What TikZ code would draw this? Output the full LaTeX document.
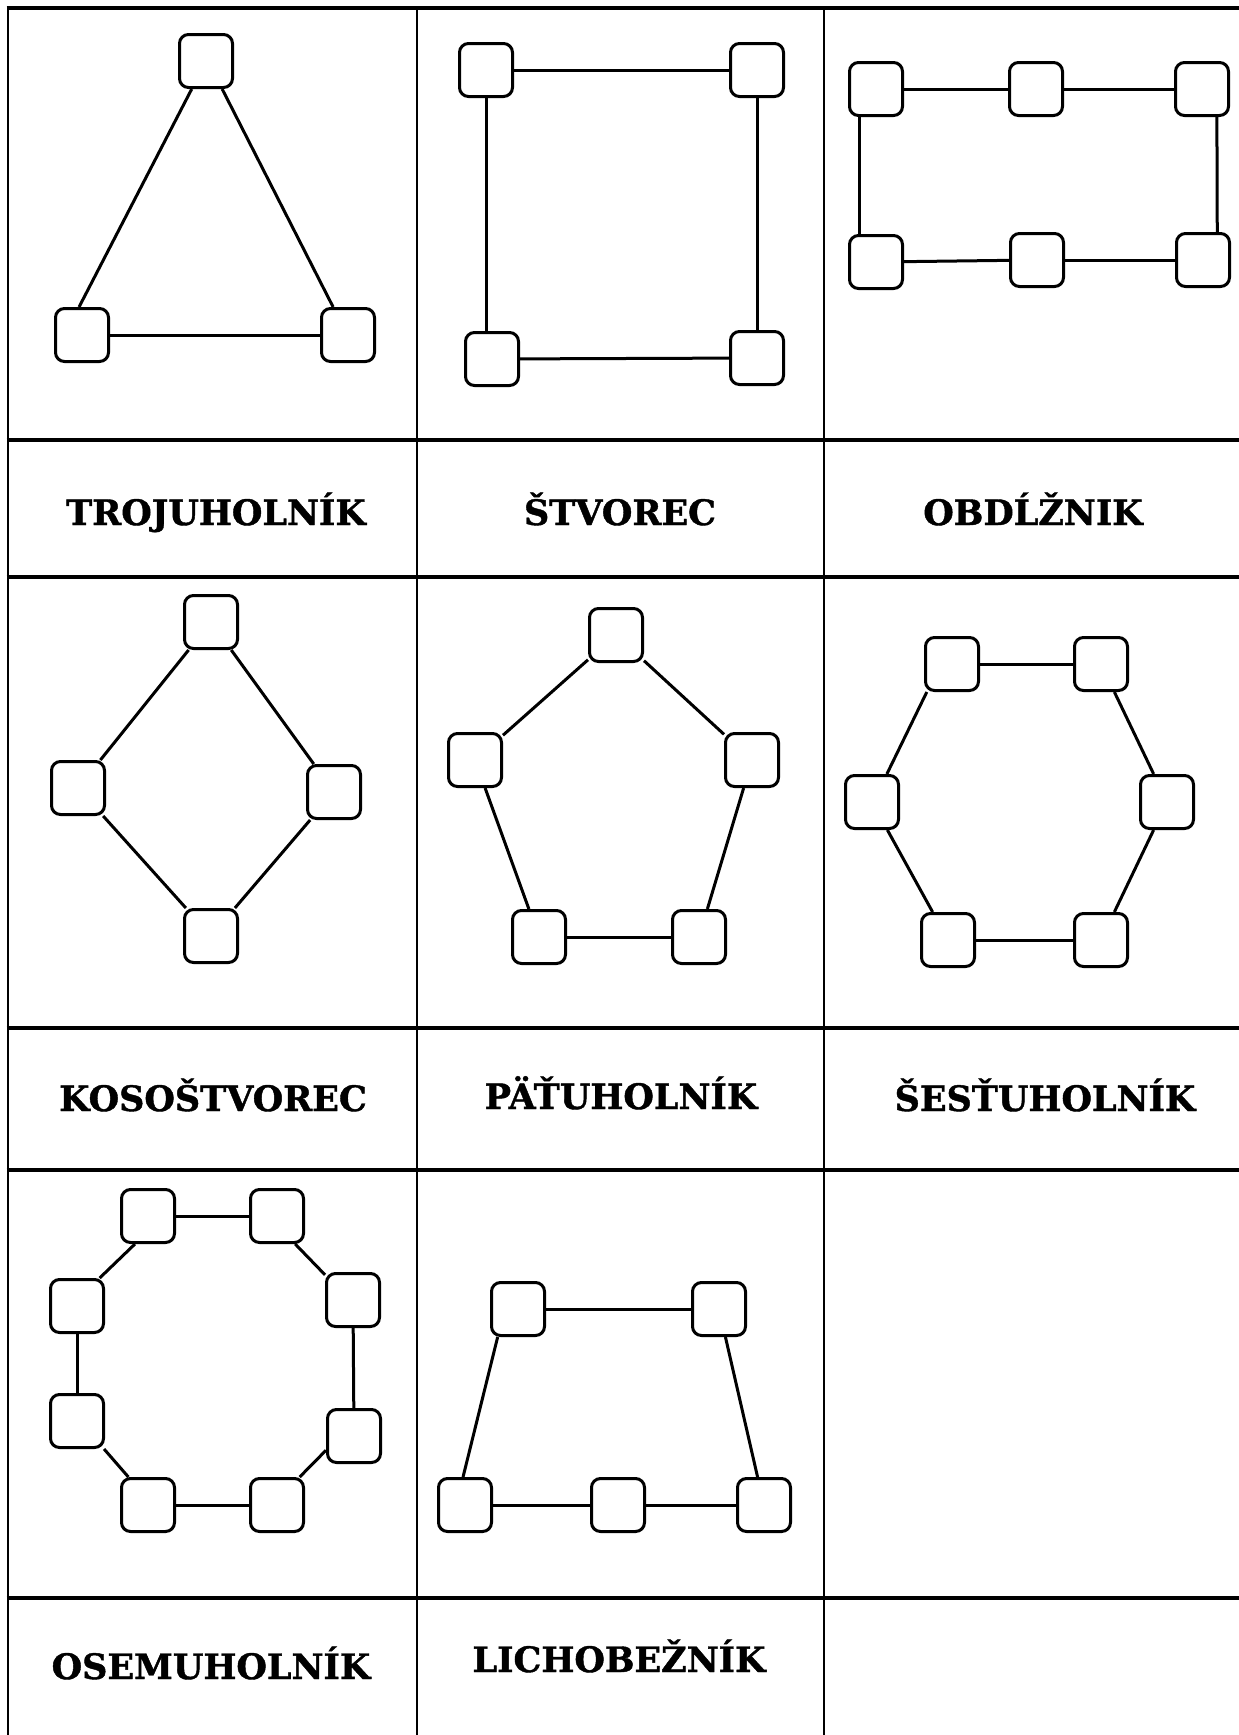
\documentclass[tikz,border=0pt]{standalone}
\usepackage{fontspec}
\setmainfont{DejaVu Serif}
\newfontfamily\lblfont{DejaVu Serif Bold}[FakeBold=1.2]
\begin{document}
\begin{tikzpicture}[x=1pt,y=-1pt,
  vbox/.style={draw, line width=3pt, rounded corners=9pt, minimum size=53pt, inner sep=0pt, fill=white},
  edge/.style={line width=3pt},
  hgrid/.style={line width=3.5pt},
  vgrid/.style={line width=2.6pt},
  lbl/.style={font=\lblfont\fontsize{35}{35}\selectfont, inner sep=0pt, anchor=base}]
\fill[white] (0,0) rectangle (1239,1735);
\useasboundingbox (0,0) rectangle (1239,1735);
% grid
\foreach \y in {8,440,577,1028,1170,1598} \draw[hgrid] (6.7,\y) -- (1239,\y);
\foreach \x in {8,417,824} \draw[vgrid] (\x,6.25) -- (\x,1735);
% triangle
\node[vbox] (a1) at (206,61) {};
\node[vbox] (a2) at (82,335) {};
\node[vbox] (a3) at (348,335) {};
\draw[edge] (a1.243) -- (a2.96);
\draw[edge] (a1.300) -- (a3.118);
\draw[edge] (a2) -- (a3);
% square
\node[vbox] (b1) at (486,70) {};
\node[vbox] (b2) at (757,70) {};
\node[vbox] (b3) at (492,359) {};
\node[vbox] (b4) at (757,358) {};
\draw[edge] (b1) -- (b2);
\draw[edge] (b1.south) -- (b1.south |- b3.north);
\draw[edge] (b2) -- (b4);
\draw[edge] (b3) -- (b4);
% rectangle
\node[vbox] (c1) at (876,89) {};
\node[vbox] (c2) at (1036,89) {};
\node[vbox] (c3) at (1202,89) {};
\node[vbox] (c4) at (876,262) {};
\node[vbox] (c5) at (1037,260) {};
\node[vbox] (c6) at (1203,260) {};
\draw[edge] (c1) -- (c2);
\draw[edge] (c2) -- (c3);
\draw[edge] (c4) -- (c5);
\draw[edge] (c5) -- (c6);
\draw[edge] (c1.240) -- (c4.120);
\draw[edge] (c3.298) -- (c6.63);
% rhombus
\node[vbox] (d1) at (211,622) {};
\node[vbox] (d2) at (78,788) {};
\node[vbox] (d3) at (334,792) {};
\node[vbox] (d4) at (211,936) {};
\draw[edge] (d1) -- (d2);
\draw[edge] (d1) -- (d3);
\draw[edge] (d2) -- (d4);
\draw[edge] (d3) -- (d4);
% pentagon
\node[vbox] (e1) at (616,635) {};
\node[vbox] (e2) at (475,760) {};
\node[vbox] (e3) at (752,760) {};
\node[vbox] (e4) at (539,937) {};
\node[vbox] (e5) at (699,937) {};
\draw[edge] (e1) -- (e2);
\draw[edge] (e1) -- (e3);
\draw[edge] (e2) -- (e4);
\draw[edge] (e3) -- (e5);
\draw[edge] (e4) -- (e5);
% hexagon
\node[vbox] (f1) at (952,664) {};
\node[vbox] (f2) at (1101,664) {};
\node[vbox] (f3) at (872,802) {};
\node[vbox] (f4) at (1167,802) {};
\node[vbox] (f5) at (948,940) {};
\node[vbox] (f6) at (1101,940) {};
\draw[edge] (f1) -- (f2);
\draw[edge] (f1.228) -- (f3.62);
\draw[edge] (f2) -- (f4);
\draw[edge] (f3) -- (f5);
\draw[edge] (f4) -- (f6);
\draw[edge] (f5) -- (f6);
% octagon
\node[vbox] (g1) at (148,1216) {};
\node[vbox] (g2) at (277,1216) {};
\node[vbox] (g3) at (77,1306) {};
\node[vbox] (g4) at (353,1300) {};
\node[vbox] (g5) at (77,1421) {};
\node[vbox] (g6) at (354,1436) {};
\node[vbox] (g7) at (148,1505) {};
\node[vbox] (g8) at (277,1505) {};
\draw[edge] (g1) -- (g2);
\draw[edge] (g1.245) -- (g3.51);
\draw[edge] (g3) -- (g5);
\draw[edge] (g5.314) -- (g7.125);
\draw[edge] (g7) -- (g8);
\draw[edge] (g8.51) -- (g6.207);
\draw[edge] (g6) -- (g4);
\draw[edge] (g4.138) -- (g2.303);
% trapezoid
\node[vbox] (h1) at (518,1309) {};
\node[vbox] (h2) at (719,1309) {};
\node[vbox] (h3) at (465,1505) {};
\node[vbox] (h4) at (618,1505) {};
\node[vbox] (h5) at (764,1505) {};
\draw[edge] (h1) -- (h2);
\draw[edge] (h1.234) -- (h3.94);
\draw[edge] (h2) -- (h5);
\draw[edge] (h3) -- (h4);
\draw[edge] (h4) -- (h5);
% labels
\node[lbl] (t1) at (216,525) {TROJUHOLNÍK};
\node[lbl] (t2) at (620,525) {ŠTVOREC};
\node[lbl] (t3) at (1033,525) {OBDĹŽNIK};
\node[lbl] (t4) at (213,1111) {KOSOŠTVOREC};
\node[lbl] (t5) at (621,1109) {PÄŤUHOLNÍK};
\node[lbl] (t6) at (1045,1111) {ŠESŤUHOLNÍK};
\node[lbl] (t7) at (211,1679) {OSEMUHOLNÍK};
\node[lbl] (t8) at (619,1672) {LICHOBEŽNÍK};
\end{tikzpicture}
\end{document}
